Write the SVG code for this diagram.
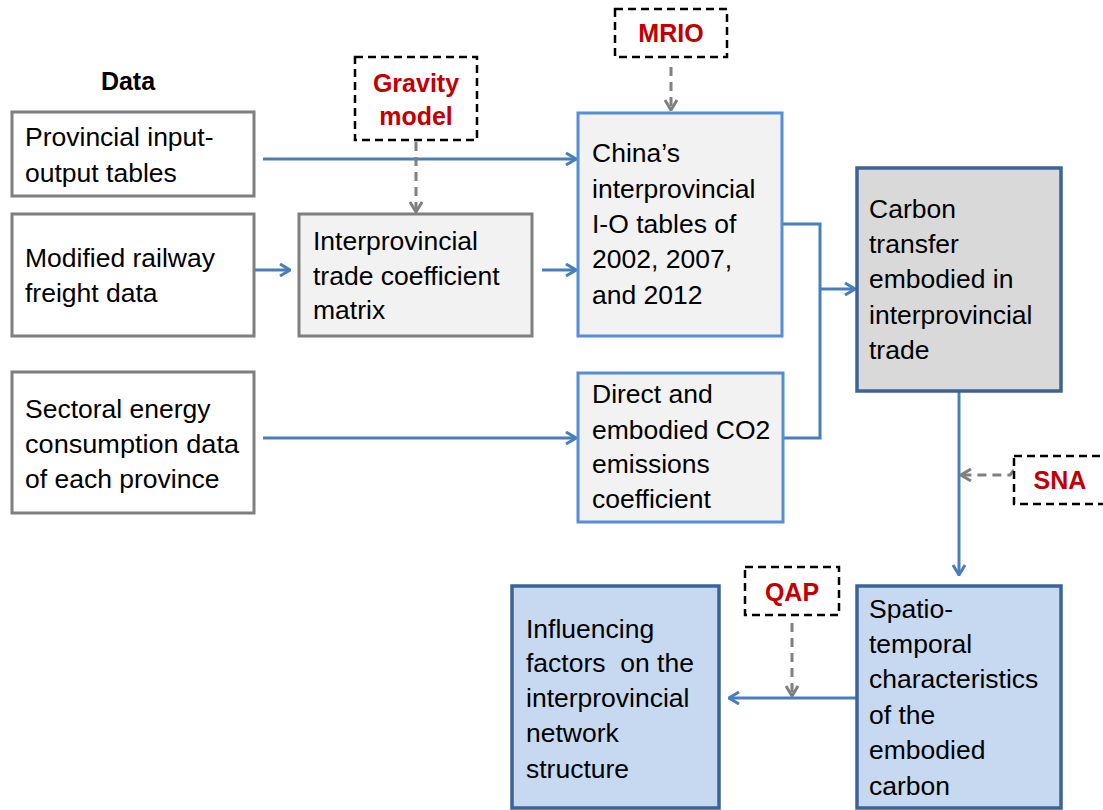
<svg xmlns="http://www.w3.org/2000/svg" width="1103" height="810" viewBox="0 0 1103 810">
<defs>
<style>
.t{font-family:"Liberation Sans",Arial,sans-serif;font-size:26.5px;fill:#000}
.h{font-family:"Liberation Sans",Arial,sans-serif;font-size:25px;font-weight:bold;fill:#000}
.r{font-family:"Liberation Sans",Arial,sans-serif;font-size:25px;font-weight:bold;fill:#c00000;text-anchor:middle}
.gbox{fill:#fff;stroke:#7f7f7f;stroke-width:3}
.gfill{fill:#f2f2f2;stroke:#7f7f7f;stroke-width:3}
.lblue{fill:#f2f2f2;stroke:#558ed5;stroke-width:3}
.dgray{fill:#d9d9d9;stroke:#3b6494;stroke-width:3.5}
.dblue{fill:#c6d9f1;stroke:#3b6494;stroke-width:3.5}
.dash{fill:#fff;stroke:#000;stroke-width:2.5;stroke-dasharray:8 5}
.c{fill:none;stroke:#4a7ebb;stroke-width:3}
.cd{fill:none;stroke:#808080;stroke-width:3;stroke-dasharray:9 6}
</style>
<marker id="ab" viewBox="0 0 12 14" refX="11" refY="7" markerWidth="12" markerHeight="14" markerUnits="userSpaceOnUse" orient="auto">
<path d="M1,1 L11,7 L1,13" fill="none" stroke="#4a7ebb" stroke-width="3"/>
</marker>
<marker id="ag" viewBox="0 0 12 14" refX="11" refY="7" markerWidth="12" markerHeight="14" markerUnits="userSpaceOnUse" orient="auto">
<path d="M1,1 L11,7 L1,13" fill="none" stroke="#808080" stroke-width="3"/>
</marker>
</defs>
<rect width="1103" height="810" fill="#fff"/>

<text class="h" x="128" y="90" text-anchor="middle">Data</text>

<g id="connectors">
<line class="c" x1="263" y1="159" x2="576" y2="159" marker-end="url(#ab)"/>
<line class="c" x1="254" y1="270" x2="290" y2="270" marker-end="url(#ab)"/>
<line class="c" x1="542" y1="270" x2="576" y2="270" marker-end="url(#ab)"/>
<line class="c" x1="263" y1="438" x2="576" y2="438" marker-end="url(#ab)"/>
<polyline class="c" points="782,224 820,224 820,438 783,438"/>
<line class="c" x1="820" y1="289" x2="855" y2="289" marker-end="url(#ab)"/>
<line class="c" x1="959" y1="391" x2="959" y2="575" marker-end="url(#ab)"/>
<line class="c" x1="857" y1="698" x2="729" y2="698" marker-end="url(#ab)"/>
<line class="cd" x1="416" y1="142" x2="416" y2="212" marker-end="url(#ag)"/>
<line class="cd" x1="671" y1="67" x2="671" y2="110" marker-end="url(#ag)"/>
<polyline class="cd" points="1014,470 1010,475 961,475" marker-end="url(#ag)"/>
<line class="cd" x1="792" y1="623" x2="792" y2="696" marker-end="url(#ag)"/>
</g>

<g id="provincial-io">
<rect class="gbox" x="12" y="112" width="242" height="84"/>
<text class="t" x="25" y="146">Provincial input-</text>
<text class="t" x="25" y="182">output tables</text>
</g>

<g id="railway">
<rect class="gbox" x="12" y="214" width="242" height="122"/>
<text class="t" x="25" y="267">Modified railway</text>
<text class="t" x="25" y="302">freight data</text>
</g>

<g id="sectoral">
<rect class="gbox" x="12" y="372" width="242" height="141"/>
<text class="t" x="25" y="418">Sectoral energy</text>
<text class="t" x="25" y="453" textLength="214" lengthAdjust="spacingAndGlyphs">consumption data</text>
<text class="t" x="25" y="488">of each province</text>
</g>

<g id="gravity">
<rect class="dash" x="355" y="57" width="122" height="83"/>
<text class="r" x="416" y="92">Gravity</text>
<text class="r" x="416" y="125">model</text>
</g>

<g id="matrix">
<rect class="gfill" x="299" y="214" width="233" height="122"/>
<text class="t" x="313" y="250">Interprovincial</text>
<text class="t" x="313" y="285">trade coefficient</text>
<text class="t" x="313" y="319">matrix</text>
</g>

<g id="mrio">
<rect class="dash" x="615" y="9" width="112" height="48"/>
<text class="r" x="671" y="42">MRIO</text>
</g>

<g id="china-io">
<rect class="lblue" x="578" y="113" width="204" height="223"/>
<text class="t" x="592" y="162">China’s</text>
<text class="t" x="592" y="198">interprovincial</text>
<text class="t" x="592" y="233">I-O tables of</text>
<text class="t" x="592" y="268">2002, 2007,</text>
<text class="t" x="592" y="304">and 2012</text>
</g>

<g id="co2">
<rect class="lblue" x="578" y="373" width="205" height="149"/>
<text class="t" x="592" y="403">Direct and</text>
<text class="t" x="592" y="439">embodied CO2</text>
<text class="t" x="592" y="473">emissions</text>
<text class="t" x="592" y="508">coefficient</text>
</g>

<g id="carbon-transfer">
<rect class="dgray" x="857" y="168" width="204" height="223"/>
<text class="t" x="869" y="218">Carbon</text>
<text class="t" x="869" y="253">transfer</text>
<text class="t" x="869" y="288">embodied in</text>
<text class="t" x="869" y="324">interprovincial</text>
<text class="t" x="869" y="359">trade</text>
</g>

<g id="sna">
<rect class="dash" x="1014" y="456" width="100" height="48"/>
<text class="r" x="1060" y="489">SNA</text>
</g>

<g id="spatio">
<rect class="dblue" x="857" y="586" width="204" height="222"/>
<text class="t" x="869" y="618">Spatio-</text>
<text class="t" x="869" y="653">temporal</text>
<text class="t" x="869" y="688">characteristics</text>
<text class="t" x="869" y="724">of the</text>
<text class="t" x="869" y="759">embodied</text>
<text class="t" x="869" y="795">carbon</text>
</g>

<g id="qap">
<rect class="dash" x="745" y="567" width="94" height="48"/>
<text class="r" x="792" y="601">QAP</text>
</g>

<g id="influencing">
<rect class="dblue" x="512" y="586" width="207" height="222"/>
<text class="t" x="526" y="638">Influencing</text>
<text class="t" x="526" y="672" xml:space="preserve">factors  on the</text>
<text class="t" x="526" y="707">interprovincial</text>
<text class="t" x="526" y="742">network</text>
<text class="t" x="526" y="778">structure</text>
</g>
</svg>
